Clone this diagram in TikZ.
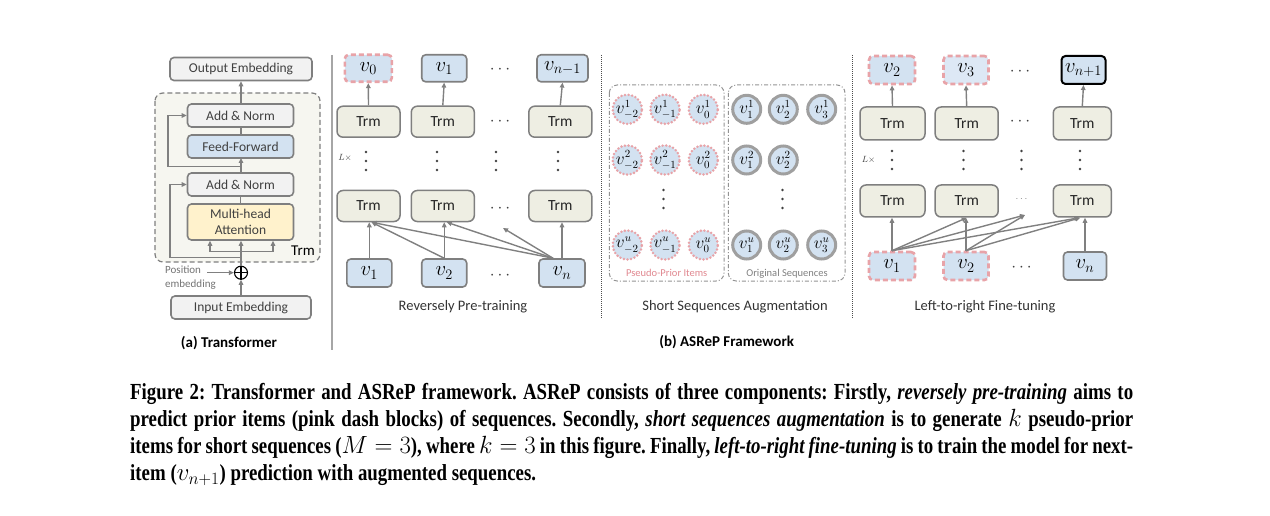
\documentclass[tikz,border=0pt]{standalone}
\usepackage{fontspec}
\setmainfont{Carlito}
\newfontfamily\capfont[FakeStretch=0.82]{Liberation Serif}
\usetikzlibrary{arrows.meta,calc}
\definecolor{bxd}{HTML}{7F7F7F}
\definecolor{gfill}{HTML}{F2F2F2}
\definecolor{bfill}{HTML}{D3E2F1}
\definecolor{bfillL}{HTML}{DDE8F5}
\definecolor{yfill}{HTML}{FFF2CC}
\definecolor{tfill}{HTML}{EEEEE3}
\definecolor{pinkd}{HTML}{E8A3A8}
\definecolor{pinkt}{HTML}{E0878F}
\definecolor{txt}{HTML}{404040}
\definecolor{arrc}{HTML}{808080}
\definecolor{tbfill}{HTML}{F6F6F0}
\newcommand{\vdts}[2]{\fill[txt] (#1,#2-9) circle (1.3) (#1,#2) circle (1.3) (#1,#2+9) circle (1.3);}
\tikzset{
  gbox/.style={rectangle,rounded corners=4,draw=bxd,line width=1.6,fill=gfill,text=txt,
     font=\fontsize{13.5}{15}\selectfont,inner sep=0,minimum height=23},
  trmbox/.style={rectangle,rounded corners=6,draw=bxd,line width=1.5,fill=tfill,text=black!85,
     font=\fontsize{15.5}{16}\selectfont,inner sep=0,minimum width=63,minimum height=31},
  item/.style={rectangle,rounded corners=4,draw=bxd,line width=1.6,fill=bfill,
     font=\fontsize{20}{20}\selectfont,inner sep=0,minimum width=46,minimum height=27},
  pitem/.style={item,draw=pinkd,line width=2.6,dash pattern=on 5pt off 3pt},
  pcirc/.style={circle,fill=bfill,draw=pinkd,line width=2.8,dash pattern=on 0pt off 3.6pt,line cap=round,
     inner sep=0,minimum size=29,font=\fontsize{16}{16}\selectfont},
  ocirc/.style={circle,fill=bfill,draw=gray!75,line width=3,
     inner sep=0,minimum size=28,font=\fontsize{16}{16}\selectfont},
  arr/.style={draw=arrc,line width=1.4,-{Triangle[length=5,width=4.5]}},
  ln/.style={draw=arrc,line width=1.4},
  hdots/.style={text=txt,font=\fontsize{16}{16}\selectfont,inner sep=0},
  lbl/.style={text=black!80,font=\fontsize{14.5}{16}\selectfont,inner sep=0},
  sub/.style={text=black,font=\bfseries\fontsize{15}{16}\selectfont,inner sep=0},
  lx/.style={text=txt,font=\fontsize{9}{10}\selectfont,inner sep=0},
  grp/.style={draw=gray!85,line width=1,rounded corners=8,dash pattern=on 4pt off 2pt on 1pt off 2pt},
  sepd/.style={draw=black!70,line width=1,dash pattern=on 1pt off 1pt},
}
\begin{document}
\begin{tikzpicture}[x=1pt,y=-1pt]
\useasboundingbox (0,0) rectangle (1270,516);
% ---------------- (a) Transformer ----------------
\draw[dashed,draw=bxd,line width=1.2,fill=tbfill,rounded corners=8,dash pattern=on 5pt off 3pt] (155,93) rectangle (320,262);
\node[gbox,minimum width=142] (outemb) at (241,69) {Output Embedding};
\node[gbox,minimum width=106] (an1) at (240.5,115.5) {Add \& Norm};
\node[gbox,minimum width=106,fill=bfill] (ff) at (240.5,146.5) {Feed-Forward};
\node[gbox,minimum width=106] (an2) at (240.5,184.5) {Add \& Norm};
\node[gbox,minimum width=106,minimum height=36,fill=yfill,align=center,font=\fontsize{13.5}{15.5}\selectfont] (mha) at (240.5,222) {Multi-head\\Attention};
\node[text=black,font=\fontsize{15}{16}\selectfont,inner sep=0] (trmlbl) at (303,251) {Trm};
\node[circle,draw=black,line width=1.1,minimum size=13,inner sep=0] (plus) at (241,272.7) {};
\draw[black,line width=1.1] (plus.north)--(plus.south) (plus.west)--(plus.east);
\node[gbox,minimum width=140] (inemb) at (241,307.5) {Input Embedding};
\node[text=gray!90!black,font=\fontsize{11}{14}\selectfont,align=left,inner sep=0,anchor=west] (posemb) at (165,278) {Position\\embedding};
\coordinate (posarr) at (207,272.7);
\draw[arr] (posarr) -- (plus.west);
\draw[arr] (inemb.north) -- (plus.south);
\coordinate (bus) at (241,251.7);
\coordinate (busL) at (210,251.7);
\coordinate (busR) at (273,251.7);
\draw[ln] (plus.north) -- (bus);
\draw[ln] (busL) -- (busR);
\draw[arr] (busL) -- (busL |- mha.south);
\draw[arr] (bus) -- (bus |- mha.south);
\draw[arr] (busR) -- (busR |- mha.south);
\coordinate (res1) at (241,257.5);
\draw[arr] (res1) -- (170,257.5) -- (170,184.5) -- (an2.west);
\draw[ln] (mha.north) -- (mha.north |- an2.south);
\draw[arr] (an2.north -| 241,0) -- (241,158);
\coordinate (res2) at (241,166.7);
\draw[arr] (res2) -- (168,166.7) -- (168,115.5) -- (an1.west);
\draw[ln] (241,135) -- (241,127);
\draw[arr] (241,104) -- (outemb.south);
\node[sub] (tA) at (229,343) {(a) Transformer};
\draw[draw=gray!70,line width=1.5] (332,55) -- (332,350);
% ---------------- Reversely pre-training ----------------
\node[pitem,minimum width=47] (pv0) at (368.3,68.3) {$v_0$};
\node[item,minimum width=45] (pv1) at (444.2,68.3) {$v_1$};
\node[item,minimum width=51] (pvn1) at (562.5,68.3) {$v_{n-1}$};
\node[hdots] (pd0) at (500,70) {$\cdots$};
\node[trmbox] (pA1) at (368.5,121.7) {Trm};
\node[trmbox] (pB1) at (442.8,121.7) {Trm};
\node[trmbox] (pC1) at (560.3,121.7) {Trm};
\node[hdots] (pd1) at (500,121.7) {$\cdots$};
\node[trmbox] (pA2) at (368.5,206) {Trm};
\node[trmbox] (pB2) at (442.8,206) {Trm};
\node[trmbox] (pC2) at (560.3,206) {Trm};
\node[hdots] (pd2) at (500,209) {$\cdots$};
\node[item,minimum width=45,minimum height=28] (pb1) at (369.3,273) {$v_1$};
\node[item,minimum width=45,minimum height=28] (pb2) at (444.2,273) {$v_2$};
\node[item,minimum width=46,minimum height=28] (pbn) at (562,273) {$v_n$};
\node[hdots] (pd3) at (500,276) {$\cdots$};
\vdts{366}{161}\vdts{437}{161}\vdts{496}{161}\vdts{558}{161}
\node[lx] (pL) at (345,158) {$L\times$};
\draw[arr] (pA1.north) -- (pv0.south);
\draw[arr] (pB1.north) -- (pv1.south);
\draw[arr] (pC1.north) -- (pvn1.south);
\draw[arr] (pb1.north) -- (pb1.north |- pA2.south);
\draw[arr] (pb2.north) -- (pb2.north |- pB2.south);
\draw[arr] (pbn.north) -- (pbn.north |- pC2.south);
\coordinate (pnsrc) at ($(pbn.north)+(-9,0)$);
\coordinate (pdot) at (503,228);
\draw[arr] (pb2.north) -- ($(pA2.south)+(3,0)$);
\draw[arr] (pnsrc) -- ($(pA2.south)+(3,0)$);
\draw[arr] (pnsrc) -- ($(pB2.south)+(4,0)$);
\draw[arr] (pnsrc) -- (pdot);
\node[lbl] (ptl) at (463,306.7) {Reversely Pre-training};
% ---------------- Short sequences augmentation ----------------
\draw[sepd] (601,55) -- (601,318);
\draw[sepd] (852,55) -- (852,318);
\draw[grp] (609.3,85) rectangle (724,281);
\draw[grp] (728.3,85) rectangle (845,281);
\node[pcirc] (a11) at (627.3,109.3) {$v^1_{-2}$};
\node[pcirc] (a12) at (665,109.3) {$v^1_{-1}$};
\node[pcirc] (a13) at (703.3,109.3) {$v^1_{0}$};
\node[pcirc] (a21) at (627.3,160) {$v^2_{-2}$};
\node[pcirc] (a22) at (665,160) {$v^2_{-1}$};
\node[pcirc] (a23) at (703.3,160) {$v^2_{0}$};
\node[pcirc] (a31) at (627.3,245) {$v^u_{-2}$};
\node[pcirc] (a32) at (665,245) {$v^u_{-1}$};
\node[pcirc] (a33) at (703.3,245) {$v^u_{0}$};
\node[ocirc] (o11) at (746.7,109.3) {$v^1_{1}$};
\node[ocirc] (o12) at (783.3,109.3) {$v^1_{2}$};
\node[ocirc] (o13) at (821.7,109.3) {$v^1_{3}$};
\node[ocirc] (o21) at (746.7,160) {$v^2_{1}$};
\node[ocirc] (o22) at (783.3,160) {$v^2_{2}$};
\node[ocirc] (o31) at (746.7,245) {$v^u_{1}$};
\node[ocirc] (o32) at (783.3,245) {$v^u_{2}$};
\node[ocirc] (o33) at (821.7,245) {$v^u_{3}$};
\vdts{663.5}{199}\vdts{782.5}{199}
\node[text=pinkt,font=\fontsize{10.5}{12}\selectfont,inner sep=0] (ppl) at (666.7,273.3) {Pseudo-Prior Items};
\node[text=gray,font=\fontsize{10.5}{12}\selectfont,inner sep=0] (osl) at (787,273.3) {Original Sequences};
\node[lbl] (ssl) at (735,306.7) {Short Sequences Augmentation};
\node[sub] (tB) at (726.7,341.7) {(b) ASReP Framework};
% ---------------- Left-to-right fine-tuning ----------------
\node[pitem,minimum width=46,minimum height=28] (fv2) at (892,70) {$v_2$};
\node[pitem,minimum width=45,minimum height=28,fill=bfillL] (fv3) at (966,70) {$v_3$};
\node[item,draw=black,line width=2,minimum width=44,minimum height=28] (fvn1) at (1083.5,70) {$v_{n+1}$};
\node[hdots] (fd0) at (1020,71.5) {$\cdots$};
\node[trmbox,minimum width=65,minimum height=33] (fA1) at (892.5,123.5) {Trm};
\node[trmbox,minimum width=63,minimum height=33] (fB1) at (966.7,123.5) {Trm};
\node[trmbox,minimum width=58,minimum height=33] (fC1) at (1082.3,123.5) {Trm};
\node[hdots] (fd1) at (1020,122) {$\cdots$};
\node[trmbox,minimum width=65,minimum height=32] (fA2) at (892.5,201) {Trm};
\node[trmbox,minimum width=63,minimum height=32] (fB2) at (966.7,201) {Trm};
\node[trmbox,minimum width=58,minimum height=32] (fC2) at (1082.3,201) {Trm};
\node[hdots,text=gray,font=\fontsize{10}{10}\selectfont] (fd2) at (1021.5,199) {$\cdots$};
\node[pitem,minimum width=46,minimum height=28] (fb1) at (892,266) {$v_1$};
\node[pitem,minimum width=45,minimum height=28] (fb2) at (966,266) {$v_2$};
\node[item,minimum width=43,minimum height=28] (fbn) at (1085,266) {$v_n$};
\node[hdots] (fd3) at (1021.5,268) {$\cdots$};
\vdts{892}{160}\vdts{963.5}{160}\vdts{1021.5}{160}\vdts{1080}{160}
\node[lx] (fL) at (868.5,160) {$L\times$};
\draw[arr] (fA1.north) -- (fv2.south);
\draw[arr] (fB1.north) -- (fv3.south);
\draw[arr] (fC1.north) -- (fvn1.south);
\draw[arr] (fb1.north) -- (fb1.north |- fA2.south);
\draw[arr] (fb2.north) -- (fb2.north |- fB2.south);
\draw[arr] (fbn.north) -- (fbn.north |- fC2.south);
\coordinate (fdot) at (1025,215);
\draw[arr] (fb1.north) -- (fB2.south);
\draw[arr] (fb1.north) -- (fdot);
\draw[arr] (fb1.north) -- ($(fC2.south)+(-3,0)$);
\draw[arr] (fb2.north) -- (fdot);
\draw[arr] (fb2.north) -- ($(fC2.south)+(-2,0)$);
\node[lbl] (ftl) at (985,306.7) {Left-to-right Fine-tuning};
% ---------------- caption ----------------
\node[anchor=north west,inner sep=0,text width=1003,align=justify,
      font=\capfont\bfseries\fontsize{23}{27}\selectfont] (cap) at (130,383)
{\frenchspacing Figure 2: Transformer and ASReP framework. ASReP consists of three components: Firstly, \textit{reversely pre-training} aims to\linebreak
predict prior items (pink dash blocks) of sequences. Secondly, \textit{short sequences augmentation} is to generate $k$ pseudo-prior\linebreak
items for short sequences ($M=3$), where $k=3$ in this figure. Finally, \textit{left-to-right fine-tuning} is to train the model for next-\linebreak
item ($v_{n+1}$) prediction with augmented sequences.\par};
\end{tikzpicture}
\end{document}
